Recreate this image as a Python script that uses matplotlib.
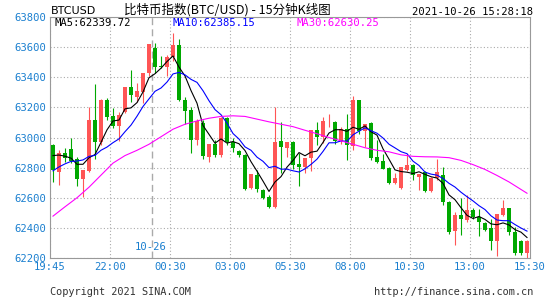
import matplotlib
matplotlib.use("Agg")
import matplotlib.pyplot as plt
import numpy as np
import pandas as pd

# 15-minute candles, BTC/USD index
opens = [62950, 62772, 62894, 62923, 62857, 62723, 62779, 63116, 62968, 63249,
         63143, 63078, 63172, 63338, 63272, 63305, 63431, 63593, 63478, 63467,
         63533, 63616, 63249, 63183, 62983, 63094, 62872, 62956, 62883, 63127,
         62972, 62910, 62883, 62666, 62750, 62654, 62606, 62539, 62976, 62928,
         62972, 62821, 62805, 62862, 63052, 63002, 63107, 63106, 62974, 63058,
         62945, 63247, 63042, 63094, 62872, 62843, 62799, 62699, 62668, 62786,
         62817, 62739, 62768, 62646, 62728, 62750, 62575, 62381, 62486, 62455,
         62519, 62472, 62433, 62397, 62314, 62488, 62533, 62375, 62314, 62231]
closes = [62783, 62899, 62861, 62845, 62723, 62783, 63116, 62968, 63249, 63138,
          63076, 63149, 63338, 63283, 63312, 63431, 63620, 63471, 63467, 63533,
          63616, 63249, 63178, 62983, 63112, 62876, 62956, 62883, 63127, 62972,
          62928, 62883, 62657, 62757, 62657, 62599, 62539, 62972, 62934, 62972,
          62820, 62802, 62866, 63053, 63005, 63112, 63112, 62975, 63056, 62950,
          63247, 63044, 63088, 62861, 62839, 62794, 62699, 62732, 62806, 62817,
          62750, 62757, 62646, 62728, 62772, 62575, 62374, 62486, 62462, 62519,
          62472, 62439, 62388, 62314, 62491, 62533, 62372, 62231, 62231, 62314]
highs = [62955, 62917, 62927, 62994, 62872, 62783, 63200, 63356, 63256, 63265,
         63194, 63172, 63338, 63445, 63360, 63431, 63620, 63627, 63540, 63549,
         63693, 63653, 63272, 63205, 63121, 63116, 62956, 62983, 63134, 63134,
         62994, 62915, 62890, 62760, 62783, 62661, 62617, 63205, 63105, 62972,
         62980, 62894, 62866, 63053, 63100, 63134, 63159, 63110, 63070, 63153,
         63275, 63250, 63090, 63100, 62983, 62890, 62806, 62761, 62806, 62883,
         62823, 62757, 62775, 62735, 62855, 62801, 62580, 62506, 62598, 62620,
         62530, 62528, 62440, 62461, 62491, 62588, 62535, 62406, 62322, 62318]
lows = [62706, 62684, 62839, 62828, 62677, 62606, 62770, 62857, 62950, 63116,
        63065, 62976, 63160, 63238, 63238, 63227, 63405, 63427, 63460, 63405,
        63510, 63245, 63089, 62899, 62950, 62860, 62839, 62870, 62870, 62950,
        62905, 62870, 62650, 62660, 62640, 62590, 62533, 62533, 62765, 62872,
        62790, 62681, 62764, 62775, 62952, 62965, 63068, 62960, 62960, 62851,
        62920, 63020, 62938, 62850, 62830, 62790, 62690, 62690, 62660, 62780,
        62721, 62650, 62640, 62640, 62720, 62550, 62360, 62289, 62350, 62440,
        62460, 62345, 62380, 62254, 62214, 62480, 62350, 62220, 62220, 62200]
# closes before the first visible candle, estimated so the averages start where the chart does
prior_closes = [62640, 62660, 62680, 62700, 62710, 62880, 62900, 62910, 62926]

# MA30 every second bar
ma30_bars = list(range(0, 80, 2)) + [79]
ma30_vals = [62478, 62540, 62600, 62670, 62750, 62830, 62880, 62915, 62955, 63005,
             63055, 63088, 63110, 63128, 63140, 63144, 63140, 63122, 63104, 63088,
             63072, 63048, 63025, 63000, 62978, 62955, 62932, 62915, 62905, 62885,
             62875, 62872, 62871, 62866, 62848, 62820, 62788, 62748, 62705, 62655,
             62630]

time_labels = ["19:45", "22:00", "00:30", "03:00", "05:30", "08:00", "10:30", "13:00", "15:30"]
y_ticks = [62200, 62400, 62600, 62800, 63000, 63200, 63400, 63600, 63800]
day_break = 16.5  # between 23:45 and 00:00

RED = "#ff5555"
GREEN = "#00a800"
BLUE_TXT = "#1a7fcf"
MONO = "DejaVu Sans Mono"

n = len(closes)
x = np.arange(n)
all_close = pd.Series(prior_closes + closes)
ma5 = all_close.rolling(5).mean().iloc[len(prior_closes):].to_numpy()
ma10 = all_close.rolling(10).mean().iloc[len(prior_closes):].to_numpy()

fig = plt.figure(figsize=(5.45, 3.0), dpi=100)
ax = fig.add_axes([50 / 545, 1 - 258 / 300, 480 / 545, 241 / 300])

o = np.array(opens)
c = np.array(closes)
up = c >= o
colors = np.where(up, RED, GREEN)
bottoms = np.minimum(o, c)
heights = np.maximum(np.abs(c - o), 4)

ax.vlines(x, lows, highs, colors=colors, linewidth=0.8, zorder=3)
ax.bar(x, heights, bottom=bottoms, width=0.8, color=colors, linewidth=0, zorder=4)

ax.plot(x, ma5, color="black", linewidth=0.8, zorder=5)
ax.plot(x, ma10, color="#0000ff", linewidth=0.8, zorder=5)
ax.plot(ma30_bars, ma30_vals, color="#ff00ff", linewidth=0.8, zorder=5)

ax.axvline(day_break, color="#aaaaaa", linestyle=(0, (5, 3)), linewidth=1, zorder=1)

ax.set_xlim(-0.5, n - 0.5)
ax.set_ylim(62200, 63800)
ax.set_xticks(np.arange(len(time_labels)) * 10 - 0.5)
ax.set_xticklabels(time_labels)
ax.set_yticks(y_ticks)
ax.set_yticklabels([str(v) for v in y_ticks])
ax.tick_params(length=0, labelsize=7.6, colors=BLUE_TXT, pad=3)
for lab in ax.get_xticklabels() + ax.get_yticklabels():
    lab.set_family(MONO)
ax.grid(True, color="#aaaaaa", linestyle=(0, (1, 2)), linewidth=0.8)
ax.set_axisbelow(True)
for sp in ax.spines.values():
    sp.set_color("#999999")

ax.text(day_break - 0.3, 62240, "10-26", color=BLUE_TXT, fontsize=7.6,
        family=MONO, ha="center", va="bottom")

ax.text(0.01, 0.995, "MA5:62339.72", transform=ax.transAxes, color="black",
        fontsize=7.6, family=MONO, va="top")
ax.text(0.255, 0.995, "MA10:62385.15", transform=ax.transAxes, color="#0000ff",
        fontsize=7.6, family=MONO, va="top")
ax.text(0.513, 0.995, "MA30:62630.25", transform=ax.transAxes, color="#ff00ff",
        fontsize=7.6, family=MONO, va="top")

fig.text(51 / 545, 1 - 11 / 300, "BTCUSD", fontsize=8, color="black", va="center",
         family=["DejaVu Sans"])
fig.text(227 / 545, 1 - 10 / 300, "比特币指数(BTC/USD) - 15分钟K线图", fontsize=9,
         color="black", ha="center", va="center",
         family=["Noto Sans CJK SC", "DejaVu Sans"])
fig.text(533 / 545, 1 - 12 / 300, "2021-10-26 15:28:18", fontsize=7.6, color="black",
         ha="right", va="center", family=MONO)

fig.text(50 / 545, 1 - 292 / 300, "Copyright 2021 SINA.COM", fontsize=7.4,
         color="#333333", va="center", family=MONO)
fig.text(533 / 545, 1 - 292 / 300, "http://finance.sina.com.cn", fontsize=7.4,
         color="#333333", ha="right", va="center", family=MONO)

fig.savefig("out.png", dpi=100)
plt.close(fig)
